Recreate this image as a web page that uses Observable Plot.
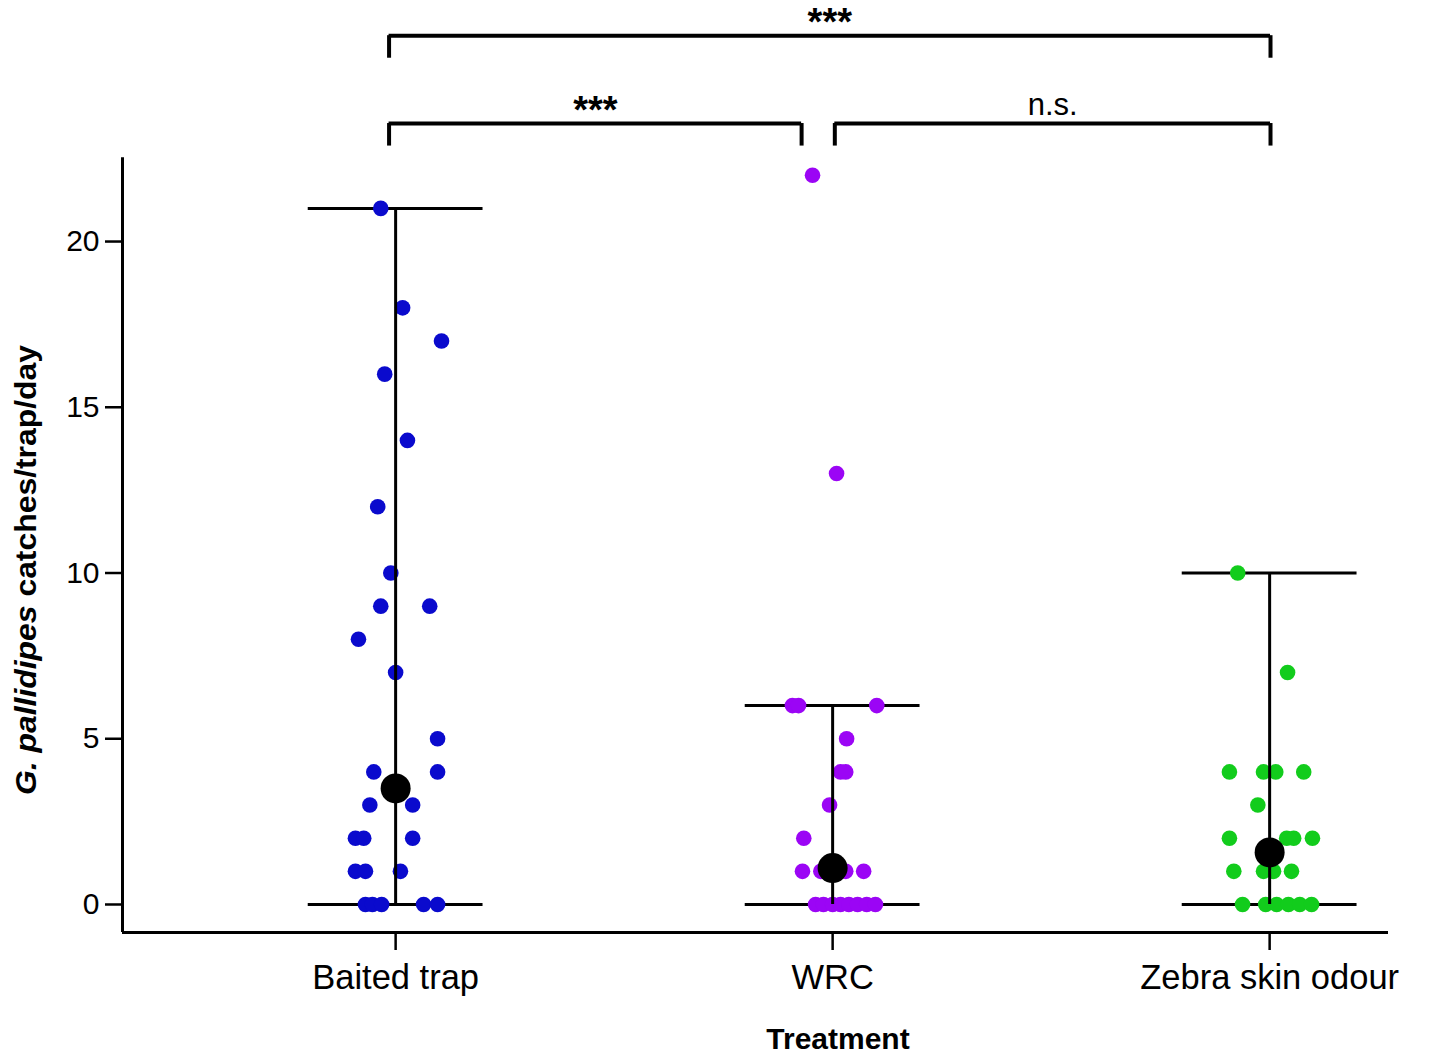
<!DOCTYPE html>
<html><head><meta charset="utf-8">
<script src="https://cdn.jsdelivr.net/npm/d3@7"></script>
<script src="https://cdn.jsdelivr.net/npm/@observablehq/plot@0.6"></script>
<style>body{margin:0;background:#fff;} svg{display:block}</style>
</head><body><div id="chart"></div>
<script>
// ---------- data ----------
const treatments = ["Baited trap", "WRC", "Zebra skin odour"];
const treatmentColors = ["#0a0acd", "#9b05f5", "#12cc1c"];

// individual catches and their horizontal jitter (in treatment-spacing units)
const baitedCatches = [21, 18, 17, 16, 14, 12, 10, 9, 9, 8, 7, 5, 4, 4, 3, 3, 2, 2, 2, 1, 1, 1, 0, 0, 0, 0, 0];
const baitedJitter  = [-0.034, 0.016, 0.105, -0.025, 0.027, -0.041, -0.011, -0.034, 0.078, -0.085, 0, 0.096, -0.050, 0.096, -0.059, 0.039, -0.092, -0.073, 0.039, -0.092, -0.069, 0.011, -0.069, -0.053, -0.032, 0.064, 0.096];

const wrcCatches = [22, 13, 6, 6, 6, 5, 4, 4, 3, 2, 1, 1, 1, 1, 0, 0, 0, 0, 0, 0, 0, 0];
const wrcJitter  = [-0.046, 0.009, -0.092, -0.078, 0.101, 0.032, 0.018, 0.030, -0.007, -0.066, -0.069, -0.027, 0.030, 0.071, -0.039, -0.021, 0, 0.018, 0.037, 0.057, 0.078, 0.098];

const zebraCatches = [10, 7, 4, 4, 4, 4, 3, 2, 2, 2, 2, 1, 1, 1, 1, 0, 0, 0, 0, 0, 0];
const zebraJitter  = [-0.073, 0.041, -0.092, -0.014, 0.014, 0.078, -0.027, -0.092, 0.039, 0.055, 0.098, -0.082, -0.014, 0.009, 0.050, -0.062, -0.009, 0.016, 0.043, 0.069, 0.096];

// estimate (big black dot) and bar limits per treatment
const estimates = [3.5, 1.1, 1.57];
const barLow  = [0, 0, 0];
const barHigh = [21, 6, 10];

// pairwise comparisons (positions in treatment units) and labels
const comparisonFrom  = [0.985, 0.985, 2.005];
const comparisonTo    = [3.002, 1.929, 3.002];
const comparisonLevel = [26.21, 23.56, 23.56];
const comparisonLabel = ["***", "***", "n.s."];

const yTicks = [0, 5, 10, 15, 20];

// ---------- tables ----------
const catchSets = [[baitedCatches, baitedJitter], [wrcCatches, wrcJitter], [zebraCatches, zebraJitter]];
const points = catchSets.flatMap(([c, j], t) => c.map((v, i) => ({treatment: treatments[t], pos: t + 1 + j[i], catches: v})));
const summary = treatments.map((t, i) => ({treatment: t, pos: i + 1, est: estimates[i], low: barLow[i], high: barHigh[i]}));
const caps = summary.flatMap(d => [{pos: d.pos, v: d.low}, {pos: d.pos, v: d.high}]);
const comps = comparisonLabel.map((l, i) => ({from: comparisonFrom[i], to: comparisonTo[i], level: comparisonLevel[i], drop: comparisonLevel[i] - 0.68, label: l, mid: (comparisonFrom[i] + comparisonTo[i]) / 2}));
const compEnds = comps.flatMap(d => [{x: d.from, y1: d.drop, y2: d.level}, {x: d.to, y1: d.drop, y2: d.level}]);

const xDomain = [0.375, 3.272];
const yDomain = [-0.845, 27];
const capHalf = 0.2;

const chart = Plot.plot({
  width: 1430, height: 1057,
  marginLeft: 122, marginRight: 42, marginTop: 9, marginBottom: 125,
  x: {domain: xDomain, axis: null},
  y: {domain: yDomain, axis: null},
  color: {domain: treatments, range: treatmentColors},
  style: {fontFamily: "'Liberation Sans', Arial, sans-serif", background: "white", color: "black"},
  marks: [
    // axes
    Plot.axisY({ticks: yTicks, tickSize: 17, tickPadding: 6, fontSize: 30, strokeWidth: 2.5, label: null}),
    Plot.axisX({ticks: [1, 2, 3], tickFormat: d => treatments[d - 1], tickSize: 18, tickPadding: 14, fontSize: 34.5, strokeWidth: 2.5, label: null}),
    Plot.ruleX([xDomain[0]], {y1: yDomain[0], y2: 22.53, strokeWidth: 3}),
    Plot.ruleY([yDomain[0]], {x1: xDomain[0], x2: xDomain[1], strokeWidth: 3}),
    // bar caps
    Plot.ruleY(caps, {y: "v", x1: d => d.pos - capHalf, x2: d => d.pos + capHalf, strokeWidth: 3}),
    // individual points
    Plot.dot(points, {x: "pos", y: "catches", r: 7.8, fill: "treatment", stroke: null}),
    // vertical bars
    Plot.ruleX(summary, {x: "pos", y1: "low", y2: "high", strokeWidth: 3}),
    // estimates
    Plot.dot(summary, {x: "pos", y: "est", r: 15, fill: "black"}),
    // comparison brackets
    Plot.ruleY(comps, {y: "level", x1: "from", x2: "to", strokeWidth: 4}),
    Plot.ruleX(compEnds, {x: "x", y1: "y1", y2: "y2", strokeWidth: 4}),
    Plot.text(comps.filter(d => d.label !== "n.s."), {x: "mid", y: "level", text: "label", lineAnchor: "bottom", dy: -1, fontSize: 38, fontWeight: "bold"}),
    Plot.text(comps.filter(d => d.label === "n.s."), {x: "mid", y: "level", text: "label", lineAnchor: "bottom", dy: -9, fontSize: 31})
  ]
});

const svg = d3.select(chart);
// y-axis title
const yt = svg.append("text")
  .attr("transform", "translate(36,570) rotate(-90)")
  .attr("text-anchor", "middle")
  .attr("font-family", "'Liberation Sans', Arial, sans-serif")
  .attr("font-weight", "bold")
  .attr("font-size", 29)
  .attr("textLength", 450)
  .attr("lengthAdjust", "spacingAndGlyphs")
  .attr("fill", "black");
yt.append("tspan").attr("font-style", "italic").text("G. pallidipes");
yt.append("tspan").text(" catches/trap/day");
// x-axis title
svg.append("text")
  .attr("x", 838).attr("y", 1049)
  .attr("text-anchor", "middle")
  .attr("font-family", "'Liberation Sans', Arial, sans-serif")
  .attr("font-weight", "bold")
  .attr("font-size", 30)
  .attr("fill", "black")
  .text("Treatment");

document.getElementById("chart").append(chart);
</script>
</body></html>
